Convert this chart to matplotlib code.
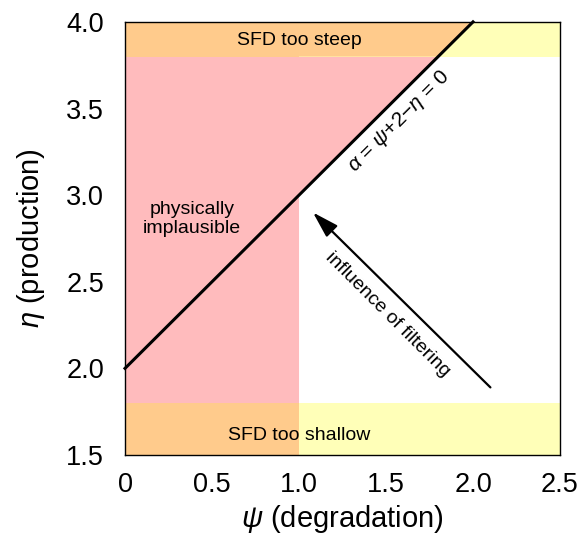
import matplotlib
matplotlib.use("Agg")
import matplotlib.pyplot as plt

plt.rcParams["font.family"] = ["Liberation Sans", "DejaVu Sans"]
plt.rcParams["mathtext.fontset"] = "custom"
plt.rcParams["mathtext.it"] = "Liberation Sans:italic"
plt.rcParams["mathtext.rm"] = "Liberation Sans"

# axis ranges and ticks
psi_lim = (0.0, 2.5)
eta_lim = (1.5, 4.0)
psi_ticks = [0, 0.5, 1.0, 1.5, 2.0, 2.5]
psi_ticklabels = ["0", "0.5", "1.0", "1.5", "2.0", "2.5"]
eta_ticks = [1.5, 2.0, 2.5, 3.0, 3.5, 4.0]

# alpha = psi + 2 - eta = 0 boundary
alpha_psi = [0.0, 2.0]
alpha_eta = [2.0, 4.0]

# physically implausible region (left of psi = 1 and above the alpha line)
implausible_psi = [0.0, 1.0, 1.0, 2.0, 0.0]
implausible_eta = [1.5, 1.5, 3.0, 4.0, 4.0]

# SFD bands
steep_band = (3.8, 4.0)
shallow_band = (1.5, 1.8)

# filtering arrow: tail -> head
arrow_tail = (2.1, 1.89)
arrow_head = (1.08, 2.9)

fig = plt.figure(figsize=(5.87, 5.34), dpi=100)
ax = fig.add_axes([0.213, 0.148, 0.741, 0.811])

pink = "#FFBBBD"
yellow = "#FFFFB8"
orange = "#FFCB8C"

ax.fill(implausible_psi, implausible_eta, color=pink, lw=0, zorder=1)
for lo, hi in (steep_band, shallow_band):
    ax.axhspan(lo, hi, color=yellow, lw=0, zorder=1)
    # overlap of band and implausible region
    ax.fill_between([0.0, 1.0], lo, hi, color=orange, lw=0, zorder=2)
# top band overlap extends along the alpha line
ax.fill([1.0, 1.8, 2.0, 1.0], [3.8, 3.8, 4.0, 4.0], color=orange, lw=0, zorder=2)

ax.plot(alpha_psi, alpha_eta, color="black", lw=2.2, zorder=4, clip_on=False)

ax.annotate("", xy=arrow_head, xytext=arrow_tail,
            arrowprops=dict(arrowstyle="-|>,head_length=0.8,head_width=0.24",
                            color="black", lw=1.6,
                            mutation_scale=20, shrinkA=0, shrinkB=0),
            zorder=5)

ax.text(1.575, 3.425, r"$\alpha$ = $\psi$+2$-\eta$ = 0", rotation=45,
        ha="center", va="center", fontsize=15, zorder=5)
ax.text(1.51, 2.31, "influence of filtering", rotation=-45,
        ha="center", va="center", fontsize=14, zorder=5)
ax.text(0.385, 2.86, "physically\nimplausible", ha="center", va="center",
        fontsize=14, linespacing=1.15, zorder=5)
ax.text(1.0, 3.895, "SFD too steep", ha="center", va="center",
        fontsize=14, zorder=5)
ax.text(1.0, 1.615, "SFD too shallow", ha="center", va="center",
        fontsize=14, zorder=5)

ax.set_xlim(*psi_lim)
ax.set_ylim(*eta_lim)
ax.set_xticks(psi_ticks)
ax.set_xticklabels(psi_ticklabels)
ax.set_yticks(eta_ticks)
ax.tick_params(axis="x", length=0, labelsize=19.5, pad=12)
ax.tick_params(axis="y", length=0, labelsize=19.5, pad=15)
ax.set_xlabel(r"$\psi$ (degradation)", fontsize=21, labelpad=4)
ax.set_ylabel(r"$\eta$ (production)", fontsize=21, labelpad=14)
for s in ax.spines.values():
    s.set_linewidth(1.0)
    s.set_zorder(6)

fig.savefig("out.png", dpi=100)
